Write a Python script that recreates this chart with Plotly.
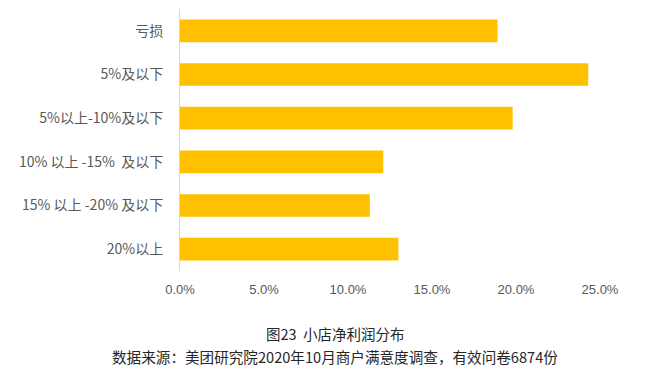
import plotly.graph_objects as go

categories = ["亏损", "5%及以下", "5%以上-10%及以下", "10% 以上 -15%  及以下", "15% 以上 -20% 及以下", "20%以上"]
values = [0.189, 0.243, 0.198, 0.121, 0.113, 0.130]
caption_title = "图23  小店净利润分布"
caption_source = "数据来源：美团研究院2020年10月商户满意度调查，有效问卷6874份"

FONT = "Noto Sans CJK SC, Noto Sans, sans-serif"

# page body has an 8px default margin; target pixel positions are compensated for it
OFF = 8
W, H = 653, 375
L, R, T, B = 180 - OFF, W - 600 + OFF, 9 - OFF, H - 271 + OFF

fig = go.Figure(go.Bar(
    x=values,
    y=categories,
    orientation="h",
    marker=dict(color="#FFC000", line=dict(width=0)),
    width=0.52,
    hoverinfo="skip",
))

fig.update_layout(
    width=W, height=H,
    margin=dict(l=L, r=R, t=T, b=B, autoexpand=False),
    paper_bgcolor="white", plot_bgcolor="white",
    showlegend=False,
    font=dict(family=FONT, color="#595959", size=14),
    xaxis=dict(
        range=[0, 0.25], dtick=0.05, tick0=0, tickformat=".1%",
        showgrid=False, zeroline=False, showline=False,
        ticks="", ticklabelstandoff=9,
        tickfont=dict(size=13, color="#595959", family="Liberation Sans, Arial, sans-serif"),
        fixedrange=True, automargin=False,
    ),
    yaxis=dict(
        categoryorder="array", categoryarray=categories[::-1],
        showgrid=False, zeroline=False,
        showline=True, linecolor="#D9D9D9", linewidth=1,
        ticks="", ticklabelstandoff=13,
        tickfont=dict(size=14, color="#595959"),
        fixedrange=True, automargin=False,
    ),
)

pw = W - L - R
ph = H - T - B
def px_to_paper(x, y):
    return (x - OFF - L) / pw, (H - B - (y - OFF)) / ph

for text, cx, cy, size in [(caption_title, 335, 333, 14.5), (caption_source, 335, 356, 14.6)]:
    px, py = px_to_paper(cx, cy)
    fig.add_annotation(text=text, x=px, y=py, xref="paper", yref="paper",
                       xanchor="center", yanchor="middle", showarrow=False,
                       font=dict(size=size, color="#262626", family=FONT))

fig.write_html("out.html")
